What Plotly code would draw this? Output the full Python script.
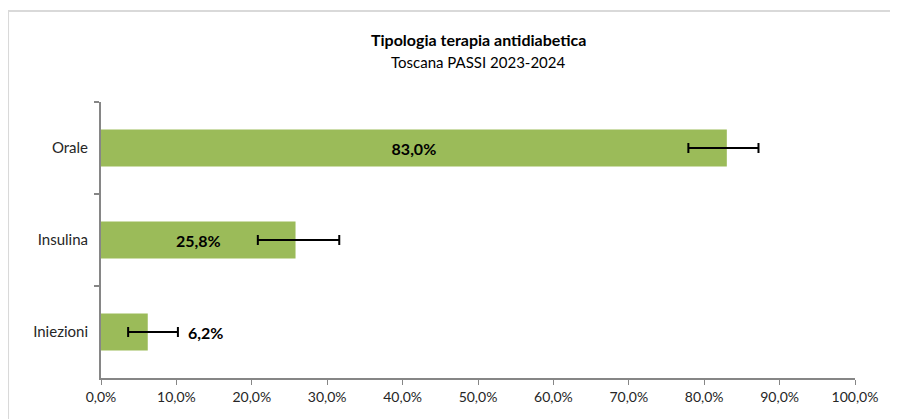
import plotly.graph_objects as go

# ── Data ──────────────────────────────────────────────────────────────────────
categories = ["Orale", "Insulina", "Iniezioni"]
values = [83.0, 25.8, 6.2]
ci_low = [77.9, 20.8, 3.6]
ci_high = [87.2, 31.6, 10.2]
x_ticks = [0, 10, 20, 30, 40, 50, 60, 70, 80, 90, 100]

GREEN = "#9BBB59"
AXIS = "#868686"
FONT = "Lato, 'DejaVu Sans', sans-serif"


def pct(v):
    return f"{v:.1f}%".replace(".", ",")


err_plus = [h - v for h, v in zip(ci_high, values)]
err_minus = [v - l for v, l in zip(values, ci_low)]
inside = [v > 15 for v in values]

fig = go.Figure(go.Bar(
    x=values, y=categories, orientation="h",
    marker=dict(color=GREEN, line=dict(width=0)),
    width=0.4,
    text=[f"<b>{pct(v)}</b>" if ins else "" for v, ins in zip(values, inside)],
    textposition="inside",
    insidetextanchor="middle",
    textfont=dict(size=16, color="black", family=FONT),
    error_x=dict(type="data", symmetric=False,
                 array=err_plus, arrayminus=err_minus,
                 color="black", thickness=2, width=5),
    cliponaxis=False,
))

# small bars: label placed right of the error bar
for cat, v, hi, ins in zip(categories, values, ci_high, inside):
    if not ins:
        fig.add_annotation(x=hi, y=cat, text=f"<b>{pct(v)}</b>",
                           showarrow=False, xanchor="left", xshift=8,
                           font=dict(size=16, color="black", family=FONT))

fig.add_annotation(x=0.5, y=1.228, xref="paper", yref="paper",
                   xanchor="center", yanchor="middle",
                   text="<b>Tipologia terapia antidiabetica</b>",
                   showarrow=False, font=dict(size=16, color="black", family=FONT))
fig.add_annotation(x=0.5, y=1.146, xref="paper", yref="paper",
                   xanchor="center", yanchor="middle",
                   text="Toscana PASSI 2023-2024",
                   showarrow=False, font=dict(size=15, color="black", family=FONT))

fig.update_layout(
    width=898, height=419,
    paper_bgcolor="white", plot_bgcolor="white",
    font=dict(family=FONT, color="#262626", size=15),
    margin=dict(l=93, r=51, t=94, b=49, autoexpand=False),
    showlegend=False,
    xaxis=dict(
        range=[0, 100], tickvals=x_ticks,
        ticktext=[pct(t) for t in x_ticks],
        showgrid=False, zeroline=False, automargin=False,
        showline=True, linecolor=AXIS, linewidth=2,
        ticks="outside", ticklen=5, tickcolor=AXIS, tickwidth=1,
        tickfont=dict(size=14, color="#262626"),
    ),
    yaxis=dict(
        autorange="reversed", showgrid=False, automargin=False,
        showline=True, linecolor=AXIS, linewidth=2,
        ticks="outside", ticklen=5, tickcolor=AXIS, tickwidth=2,
        tickson="boundaries",
        tickfont=dict(size=15, color="#262626"),
        ticklabelstandoff=8,
    ),
    shapes=[dict(
        type="rect", xref="paper", yref="paper",
        x0=-0.1233, x1=1.0557, y0=-0.2, y1=1.3297,
        line=dict(color="#D9D9D9", width=2), layer="below",
    )],
)

fig.write_html("out.html")
